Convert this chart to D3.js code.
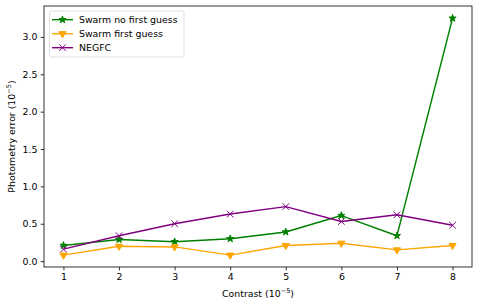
<!DOCTYPE html>
<html><head><meta charset="utf-8">
<script src="https://cdn.jsdelivr.net/npm/d3@7"></script>
<style>body{margin:0;background:#fff}svg{display:block}text{font-family:"DejaVu Sans";fill:#000}</style>
</head><body>
<svg id="c" width="479" height="305"></svg>
<script>
const contrast = [1, 2, 3, 4, 5, 6, 7, 8];
const swarmNoGuess = [0.21, 0.29, 0.26, 0.30, 0.39, 0.61, 0.34, 3.25];
const swarmGuess = [0.08, 0.20, 0.19, 0.08, 0.21, 0.24, 0.15, 0.21];
const negfc = [0.16, 0.34, 0.50, 0.63, 0.73, 0.53, 0.62, 0.48];
const xTicks = [1, 2, 3, 4, 5, 6, 7, 8];
const yTicks = [0, 0.5, 1.0, 1.5, 2.0, 2.5, 3.0];

const series = [
  {name: "Swarm no first guess", values: swarmNoGuess, color: "green", marker: "star"},
  {name: "Swarm first guess", values: swarmGuess, color: "orange", marker: "tri"},
  {name: "NEGFC", values: negfc, color: "purple", marker: "x"}
];

const svg = d3.select("#c");
const L = 44, R = 472, T = 6, B = 267;
const x = d3.scaleLinear().domain([0.65, 8.35]).range([L, R]);
const y = d3.scaleLinear().domain([-0.0785, 3.4135]).range([B, T]);
const fs = 9.4;

// axes
const xa = svg.append("g").attr("transform", `translate(0,${B})`)
  .call(d3.axisBottom(x).tickValues(xTicks).tickFormat(d3.format("d")).tickSize(3.3).tickPadding(3.3).tickSizeOuter(0));
const ya = svg.append("g").attr("transform", `translate(${L},0)`)
  .call(d3.axisLeft(y).tickValues(yTicks).tickFormat(d3.format(".1f")).tickSize(3.3).tickPadding(3.3).tickSizeOuter(0));
[xa, ya].forEach(g => {
  g.select(".domain").remove();
  g.selectAll("line").attr("stroke", "#000").attr("stroke-width", 0.8);
  g.selectAll("text").attr("font-size", fs).attr("font-family", "DejaVu Sans").attr("fill", "#000");
});

// markers
function drawMarker(g, type, cx, cy, color) {
  if (type === "star") {
    g.append("path").attr("d", d3.symbol().type(d3.symbolStar).size(16)())
      .attr("transform", `translate(${cx},${cy})`).attr("fill", color).attr("stroke", color).attr("stroke-width", 1);
  } else if (type === "tri") {
    g.append("path").attr("d", d3.symbol().type(d3.symbolTriangle).size(22)())
      .attr("transform", `translate(${cx},${cy}) rotate(180)`).attr("fill", color).attr("stroke", color).attr("stroke-width", 1);
  } else {
    const s = 3.3;
    g.append("path").attr("d", `M${cx - s},${cy - s}L${cx + s},${cy + s}M${cx - s},${cy + s}L${cx + s},${cy - s}`)
      .attr("stroke", color).attr("stroke-width", 1).attr("fill", "none");
  }
}

const line = d3.line().x((d, i) => x(contrast[i])).y(d => y(d));
const plot = svg.append("g");
series.forEach(s => {
  plot.append("path").datum(s.values).attr("d", line).attr("fill", "none")
    .attr("stroke", s.color).attr("stroke-width", 1.4).attr("stroke-linejoin", "round");
  s.values.forEach((v, i) => drawMarker(plot, s.marker, x(contrast[i]), y(v), s.color));
});

// spines
svg.append("rect").attr("x", L).attr("y", T).attr("width", R - L).attr("height", B - T)
  .attr("fill", "none").attr("stroke", "#000").attr("stroke-width", 0.8);

// labels
const xl = svg.append("text").attr("x", (L + R) / 2).attr("y", 297).attr("text-anchor", "middle").attr("font-size", fs);
xl.append("tspan").text("Contrast (10");
xl.append("tspan").text("−5").attr("font-size", fs * 0.7).attr("dy", -3.6);
xl.append("tspan").text(")").attr("dy", 3.6);
const yl = svg.append("text").attr("transform", `translate(15,${(T + B) / 2}) rotate(-90)`).attr("text-anchor", "middle").attr("font-size", fs);
yl.append("tspan").text("Photometry error (10");
yl.append("tspan").text("−5").attr("font-size", fs * 0.7).attr("dy", -3.6);
yl.append("tspan").text(")").attr("dy", 3.6);

// legend
const lg = svg.append("g");
lg.append("rect").attr("x", 49.5).attr("y", 11).attr("width", 134.5).attr("height", 46).attr("rx", 2)
  .attr("fill", "#fff").attr("fill-opacity", 0.8).attr("stroke", "#d9d9d9").attr("stroke-width", 0.8);
series.forEach((s, i) => {
  const yy = 19.7 + i * 14;
  lg.append("line").attr("x1", 52).attr("x2", 73).attr("y1", yy).attr("y2", yy).attr("stroke", s.color).attr("stroke-width", 1.4);
  drawMarker(lg, s.marker, 62.5, yy, s.color);
  lg.append("text").attr("x", 79).attr("y", yy + 3.4).attr("font-size", fs).text(s.name);
});
</script>
</body></html>
